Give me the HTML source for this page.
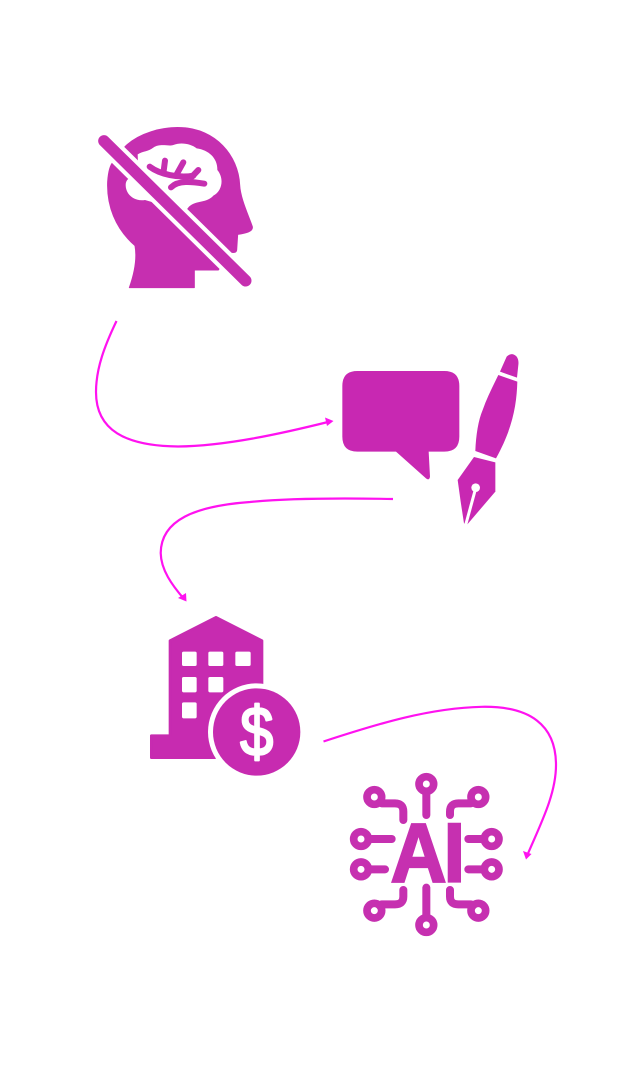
<!DOCTYPE html>
<html>
<head>
<meta charset="utf-8">
<style>
html,body{margin:0;padding:0;background:#fff;width:641px;height:1080px;overflow:hidden}
svg{display:block}
</style>
</head>
<body>
<svg width="641" height="1080" viewBox="0 0 641 1080" xmlns="http://www.w3.org/2000/svg">
<rect width="641" height="1080" fill="#fff"/>

<!-- Head -->
<g transform="translate(85,115) scale(.33333)">
  <path fill="#c62fb0" stroke="#c62fb0" stroke-width="3" stroke-linejoin="round" d="M120,95 C160,55 230,35 290,38 C390,42 460,120 464,210 C466,250 490,300 502,335 C505,350 480,355 458,358 L455,405 C453,415 445,412 435,412 L400,465 L328,465 L328,518 L133,518 C150,470 157,430 150,392 C90,340 65,270 68,200 C70,170 75,150 85,140 Z"/>
  <path fill="#fff" d="M122,210 C122,190 140,185 160,175 L158,118 C175,108 190,110 205,98 C225,84 250,95 265,90 C290,80 320,88 335,100 C372,105 398,130 397,165 C418,190 412,228 385,242 C365,265 335,255 312,275 L300,290 L180,255 C150,260 122,240 122,210 Z"/>
  <g fill="none" stroke="#c62fb0" stroke-width="18" stroke-linecap="round">
    <path d="M194,155 C225,178 280,190 325,182"/>
    <path d="M240,137 L236,168"/>
    <path d="M295,142 L275,178"/>
    <path d="M340,165 L320,186"/>
    <path d="M258,217 C280,195 320,200 358,206"/>
  </g>
  <path d="M57,78 L482,497" stroke="#fff" stroke-width="60" fill="none"/>
  <path d="M57,78 L482,497" stroke="#c62fb0" stroke-width="35" stroke-linecap="round" fill="none"/>
</g>

<!-- Speech bubble and pen -->
<g transform="translate(330,345) scale(.33333)" fill="#c828b2">
  <path d="M82,78 H343 Q388,78 388,123 V275 Q388,320 343,320 H296 L300,395 Q298,408 288,400 L198,320 H82 Q37,320 37,275 V123 Q37,78 82,78 Z"/>
  <path d="M510,80 L530,35 Q545,20 560,35 Q567,45 565,60 L561,98 Z"/>
  <path d="M505,90 L562,110 C560,180 548,250 498,340 L436,318 C438,270 445,225 458,195 C470,160 488,125 505,90 Z"/>
  <path d="M432,336 L496,352 L496,440 L412,538 L402,535 L392,470 L383,405 Z"/>
  <circle cx="437" cy="428" r="13" fill="#fff"/>
  <path d="M437,430 L407,540" stroke="#fff" stroke-width="9" fill="none"/>
</g>

<!-- Building -->
<g transform="translate(140,605) scale(.33333)">
  <path fill="#c72bb0" d="M228,37 L366,107 V300 H300 L225,458 H34 V392 H90 V107 Z" stroke="#c72bb0" stroke-width="8" stroke-linejoin="round"/>
  <g fill="#fff">
    <rect x="126" y="140" width="44" height="43" rx="5"/>
    <rect x="205" y="140" width="45" height="43" rx="5"/>
    <rect x="286" y="140" width="46" height="43" rx="5"/>
    <rect x="126" y="216" width="44" height="46" rx="5"/>
    <rect x="205" y="216" width="45" height="46" rx="5"/>
    <rect x="126" y="292" width="44" height="48" rx="5"/>
  </g>
  <circle cx="350" cy="381" r="146" fill="#fff"/>
  <circle cx="350" cy="381" r="131" fill="#c72bb0"/>
  <text transform="translate(350,451) scale(.86,1)" font-family="Liberation Sans, sans-serif" font-size="208" fill="#fff" stroke="#fff" stroke-width="7" stroke-linejoin="round" text-anchor="middle">$</text>
</g>

<!-- AI circuit -->
<g transform="translate(340,765) scale(.33333)">
  <g fill="none" stroke="#c630b0" stroke-width="24" stroke-linecap="round">
    <path d="M259,57 V150"/>
    <path d="M259,480 V368"/>
    <path d="M125,115 H165 Q190,115 190,140 V165"/>
    <path d="M393,115 H355 Q330,115 330,140 V150"/>
    <path d="M63,222 H155"/>
    <path d="M63,313 H135"/>
    <path d="M455,222 H385"/>
    <path d="M455,313 H385"/>
    <path d="M125,418 H165 Q190,418 190,395 V375"/>
    <path d="M393,418 H355 Q330,418 330,395 V375"/>
  </g>
  <g fill="#fff" stroke="#c630b0" stroke-width="23">
    <circle cx="259" cy="57" r="22"/>
    <circle cx="259" cy="480" r="22"/>
    <circle cx="103" cy="96" r="22"/>
    <circle cx="415" cy="96" r="22"/>
    <circle cx="63" cy="222" r="22"/>
    <circle cx="63" cy="313" r="22"/>
    <circle cx="455" cy="222" r="22"/>
    <circle cx="455" cy="313" r="22"/>
    <circle cx="103" cy="437" r="22"/>
    <circle cx="415" cy="437" r="22"/>
  </g>
  <text transform="scale(.92,1)" y="350" font-family="Liberation Sans, sans-serif" font-weight="700" font-size="252" fill="#c630b0" stroke="#c630b0" stroke-width="7"><tspan x="165">A</tspan><tspan x="338">I</tspan></text>
</g>

<!-- Connectors -->
<g fill="none" stroke="#ff12f0" stroke-width="2.2">
  <path d="M116.5,321 C105,345 96,368 96,392 C96,430 125,446 178,446.5 C225,446 280,434 330,421.5"/>
  <path d="M393,499 C340,498 290,498 250,502 C195,506 161,520 160.7,553 C161,570 172,585 184,599"/>
  <path d="M323.5,741.5 C380,723 430,708 482,706.8 C530,706 556,725 556,765 C556,795 540,825 526.5,857"/>
</g>
<g fill="#ff12f0">
  <path d="M333.5,421 L325,417.5 L327,426 Z"/>
  <path d="M186.5,601.5 L178,598 L186,593 Z"/>
  <path d="M526,859.5 L523,851 L531.5,854 Z"/>
</g>
</svg>
</body>
</html>
